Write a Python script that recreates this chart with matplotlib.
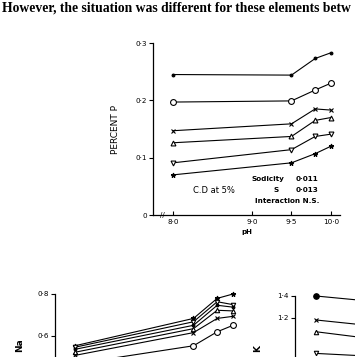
import matplotlib
matplotlib.use("Agg")
from matplotlib import pyplot as plt

# pH levels used on all panels
ph = [8.0, 9.5, 9.8, 10.0]
ph_ticks = [8.0, 9.0, 9.5, 10.0]
ph_tick_labels = ["8·0", "9·0", "9·5", "10·0"]

# percent P, one list per sodicity level (marker order top to bottom)
p_dot = [0.245, 0.244, 0.273, 0.283]
p_circle = [0.197, 0.199, 0.218, 0.230]
p_cross = [0.147, 0.159, 0.185, 0.183]
p_tri_up = [0.126, 0.137, 0.165, 0.170]
p_tri_down = [0.091, 0.114, 0.137, 0.141]
p_star = [0.070, 0.091, 0.107, 0.120]
p_ticks = [0, 0.1, 0.2, 0.3]
p_tick_labels = ["0", "0·1", "0·2", "0·3"]

# percent Na (lower left panel, partly cut off)
na_star = [0.552, 0.683, 0.779, 0.800]
na_tri_down = [0.545, 0.667, 0.763, 0.749]
na_dot = [0.535, 0.650, 0.746, 0.737]
na_tri_up = [0.521, 0.634, 0.722, 0.719]
na_cross = [0.506, 0.615, 0.683, 0.693]
na_circle = [0.465, 0.552, 0.619, 0.650]
na_ticks = [0.6, 0.8]
na_tick_labels = ["0·6", "0·8"]

# percent K (lower right panel, only the start visible)
ph_k = [8.0, 9.5]
k_dot = [1.40, 1.297]
k_cross = [1.182, 1.07]
k_tri_up = [1.075, 0.94]
k_tri_down = [0.878, 0.823]
k_ticks = [1.2, 1.4]
k_tick_labels = ["1·2", "1·4"]

sans = "DejaVu Sans"


def style_axes(ax):
    for s in ["top", "right"]:
        ax.spines[s].set_visible(False)
    for s in ["left", "bottom"]:
        ax.spines[s].set_linewidth(0.9)
    ax.tick_params(axis="y", direction="out", length=3, width=0.8, labelsize=5.2, pad=1.5)
    ax.tick_params(axis="x", direction="in", length=3, width=0.8, labelsize=5.2, pad=3)


def series(ax, x, y, marker, ms, filled=False):
    ax.plot(x, y, color="black", lw=0.8, marker=marker, ms=ms,
            mfc="black" if filled else "white", mec="black", mew=0.8, clip_on=False)


fig = plt.figure(figsize=(3.55, 3.57), dpi=100)

fig.text(0.006, 0.996, "However, the situation was different for these elements betw",
         family="Liberation Serif", weight="bold", size=9.85, va="top", ha="left")

# main panel: percent P
ax = fig.add_axes([153 / 355, 1 - 215 / 357, 187 / 355, 172 / 357])
style_axes(ax)
series(ax, ph, p_dot, "o", 2.0, filled=True)
series(ax, ph, p_circle, "o", 4.2)
series(ax, ph, p_cross, "x", 3.0)
series(ax, ph, p_tri_up, "^", 3.5)
series(ax, ph, p_tri_down, "v", 3.5)
series(ax, ph, p_star, "*", 3.5, filled=True)
ax.set_xlim(7.747, 10.114)
ax.set_ylim(0, 0.3)
ax.set_xticks(ph_ticks)
ax.set_xticklabels(ph_tick_labels, family=sans)
ax.set_yticks(p_ticks)
ax.set_yticklabels(p_tick_labels, family=sans)
ax.set_xlabel("pH", family=sans, weight="bold", size=5, labelpad=2.5)
ax.set_ylabel("PERCENT P", family=sans, size=6.5, labelpad=11)
ax.text(7.86, 0.0, "//", family=sans, size=5, ha="center", va="center")
ax.text(8.25, 0.043, "C.D at 5%", family=sans, size=6, ha="left", va="center")
ax.text(9.0, 0.063, "Sodicity", family=sans, weight="bold", size=5.2, ha="left", va="center")
ax.text(9.55, 0.063, "0·011", family=sans, weight="bold", size=5.2, ha="left", va="center")
ax.text(9.3, 0.043, "S", family=sans, weight="bold", size=5.2, ha="center", va="center")
ax.text(9.55, 0.043, "0·013", family=sans, weight="bold", size=5.2, ha="left", va="center")
ax.text(9.04, 0.024, "Interaction N.S.", family=sans, weight="bold", size=5.2, ha="left", va="center")

# lower left panel: percent Na
ax_na = fig.add_axes([55 / 355, 1 - 461 / 357, 187 / 355, 167 / 357])
style_axes(ax_na)
series(ax_na, ph, na_star, "*", 3.5, filled=True)
series(ax_na, ph, na_tri_down, "v", 3.2)
series(ax_na, ph, na_dot, "o", 2.0, filled=True)
series(ax_na, ph, na_tri_up, "^", 3.2)
series(ax_na, ph, na_cross, "x", 3.0)
series(ax_na, ph, na_circle, "o", 4.2)
ax_na.set_xlim(7.747, 10.114)
ax_na.set_ylim(0, 0.8)
ax_na.set_yticks(na_ticks)
ax_na.set_yticklabels(na_tick_labels, family=sans)
ax_na.set_xticks([])
fig.text(20 / 355, 1 - 345 / 357, "Na", family=sans, weight="bold", size=6.5,
         rotation=90, ha="center", va="center")

# lower right panel: percent K
ax_k = fig.add_axes([295 / 355, 1 - 450 / 357, 187 / 355, 154 / 357])
style_axes(ax_k)
series(ax_k, ph_k, k_dot, "o", 4.0, filled=True)
series(ax_k, ph_k, k_cross, "x", 3.0)
series(ax_k, ph_k, k_tri_up, "^", 3.2)
series(ax_k, ph_k, k_tri_down, "v", 3.2)
ax_k.set_xlim(7.734, 10.1)
ax_k.set_ylim(0, 1.4)
ax_k.set_yticks(k_ticks)
ax_k.set_yticklabels(k_tick_labels, family=sans)
ax_k.set_xticks([])
fig.text(258 / 355, 1 - 348 / 357, "K", family=sans, weight="bold", size=6.5,
         rotation=90, ha="center", va="center")

fig.savefig("out.png", dpi=100)
